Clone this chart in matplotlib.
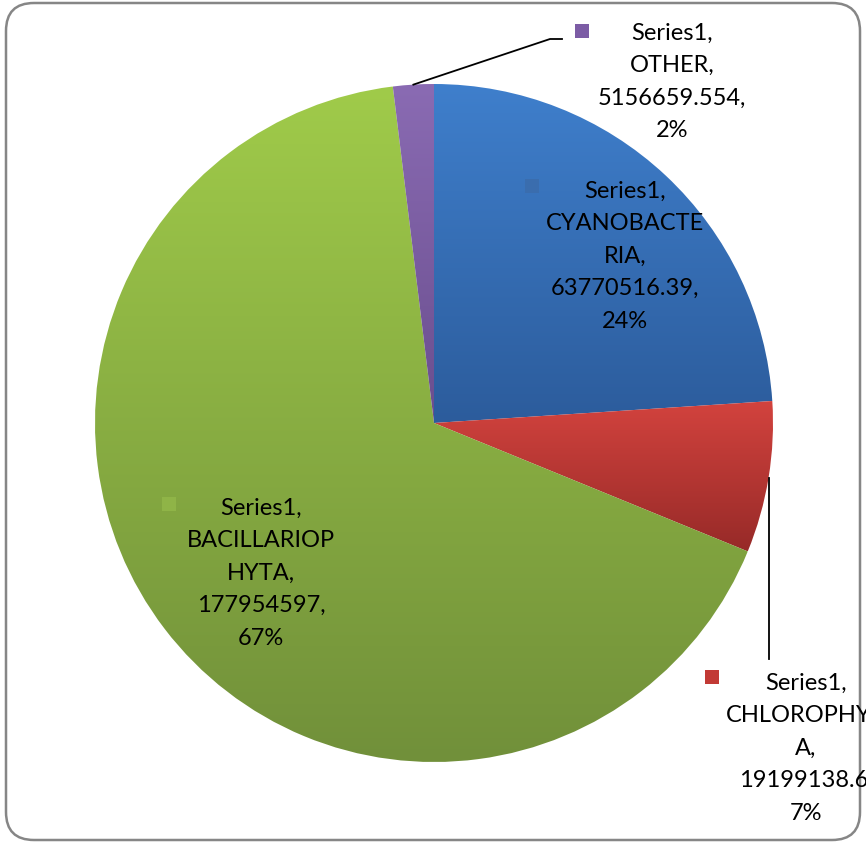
import matplotlib.pyplot as plt
import numpy as np
from matplotlib.colors import LinearSegmentedColormap
from matplotlib.patches import FancyBboxPatch, Rectangle

plt.rcParams["font.family"] = ["Lato", "DejaVu Sans"]

series_name = "Series1"
categories = ["CYANOBACTERIA", "CHLOROPHYTA", "BACILLARIOPHYTA", "OTHER"]
# category names as they wrap inside the label boxes
wrapped_names = ["CYANOBACTE\nRIA", "CHLOROPHYT\nA", "BACILLARIOP\nHYTA", "OTHER"]
values = [63770516.39, 19199138.6, 177954597, 5156659.554]

# (top, bottom) gradient colours per slice
top_colors = ["#3F7FCC", "#D3433E", "#A0CB4A", "#8A6BB3"]
bottom_colors = ["#2C5C9C", "#972A28", "#71903A", "#6A4E8E"]
key_colors = ["#3A6DAE", "#C23A35", "#8FB447", "#7C5CA5"]

# label box centres and key positions (figure pixels, y down)
label_pos = [(625, 256), (806, 748), (261, 573), (672, 82)]
key_pos = [(532, 187), (712, 678), (169, 505), (582, 32)]

W, H = 866, 845
fig = plt.figure(figsize=(W / 100, H / 100), dpi=100)
fig.patch.set_facecolor("white")

# pie axes: square box, centre (434, 424) px, radius 339 px
ax = fig.add_axes([95 / W, (H - 424 - 339) / H, 678 / W, 678 / H])
wedges, _ = ax.pie(values, startangle=90, counterclock=False,
                   wedgeprops=dict(linewidth=0))
grad = np.linspace(0, 1, 256).reshape(-1, 1)
for w, c_top, c_bot in zip(wedges, top_colors, bottom_colors):
    bb = w.get_path().get_extents()
    cmap = LinearSegmentedColormap.from_list("g", [c_top, c_bot])
    im = ax.imshow(grad, cmap=cmap, origin="upper", aspect="auto",
                   extent=(bb.x0, bb.x1, bb.y0, bb.y1), zorder=1)
    im.set_clip_path(w)
    w.set_facecolor("none")
ax.set_xlim(-1, 1)
ax.set_ylim(-1, 1)
ax.set_aspect("equal")
ax.axis("off")

# overlay in pixel coordinates for frame, labels and leader lines
ov = fig.add_axes([0, 0, 1, 1], zorder=5)
ov.set_xlim(0, W)
ov.set_ylim(H, 0)
ov.patch.set_facecolor("none")
ov.axis("off")

frame = FancyBboxPatch((6, 4), 854, 837, boxstyle="round,pad=0,rounding_size=28",
                       facecolor="none", edgecolor="#868686", linewidth=1.8)
ov.add_patch(frame)

total = sum(values)


def fmt_value(v):
    return f"{v:.3f}".rstrip("0").rstrip(".")


def edge_point(w):
    mid = np.deg2rad((w.theta1 + w.theta2) / 2)
    disp = ax.transData.transform((np.cos(mid), np.sin(mid)))
    return ov.transData.inverted().transform(disp)


for i, name in enumerate(wrapped_names):
    pct = round(values[i] / total * 100)
    txt = f"{series_name},\n{name},\n{fmt_value(values[i])},\n{pct}%"
    t = ov.text(label_pos[i][0], label_pos[i][1], txt, ha="center", va="center",
                multialignment="center", fontsize=17, color="black",
                linespacing=1.68)
    t.set_clip_path(frame)
    kx, ky = key_pos[i]
    ov.add_patch(Rectangle((kx - 7, ky - 7), 14, 14, facecolor=key_colors[i],
                           edgecolor="none"))

# leader lines for the small slices
x0, y0 = edge_point(wedges[1])
ov.plot([x0, x0], [y0, 660], color="black", linewidth=1.3)
x0, y0 = edge_point(wedges[3])
ov.plot([x0, 550, 562], [y0, 40, 40], color="black", linewidth=1.3)

fig.savefig("out.png", dpi=100, facecolor="white")
